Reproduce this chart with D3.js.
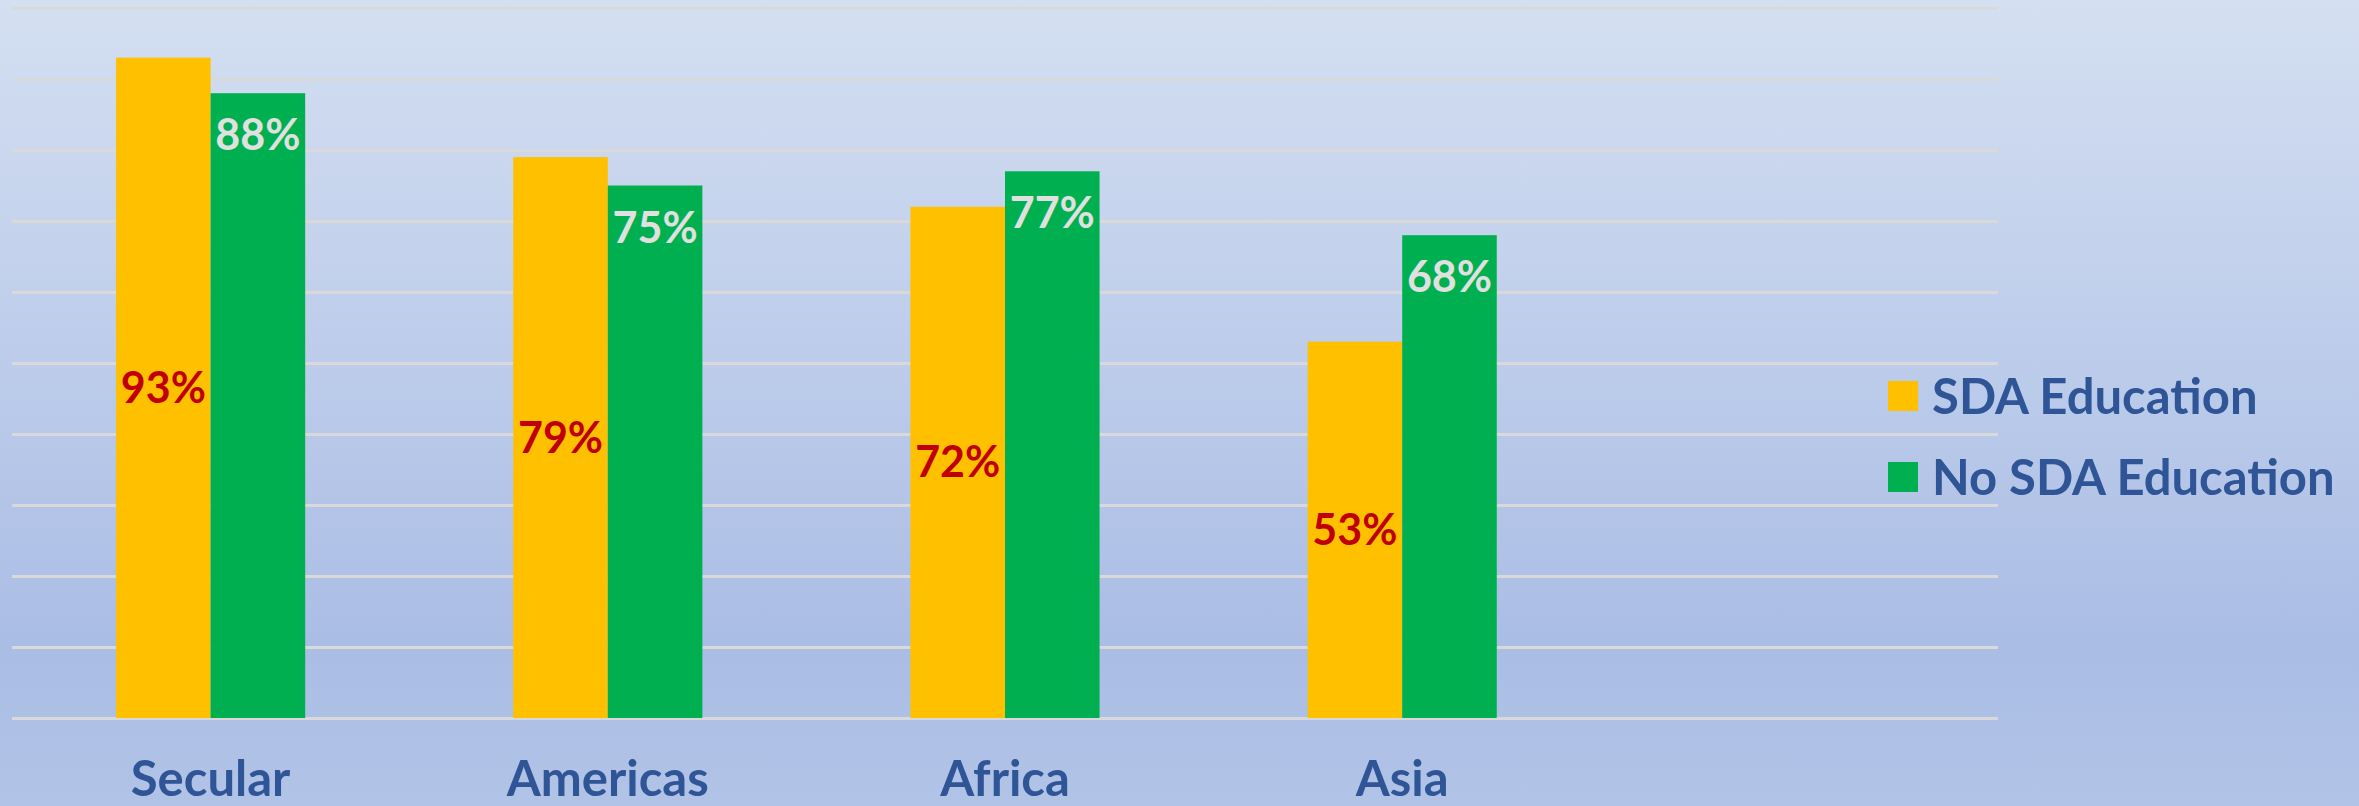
<!DOCTYPE html>
<html>
<head>
<meta charset="utf-8">
<script src="https://cdn.jsdelivr.net/npm/d3@7"></script>
<style>
	html, body { margin: 0; padding: 0; overflow: hidden; }
</style>
</head>
<body>
<div id="chart"></div>
<script>
const categories = ["Secular", "Americas", "Africa", "Asia"];
const seriesNames = ["SDA Education", "No SDA Education"];
const sdaEducation = [0.93, 0.79, 0.72, 0.53];
const noSdaEducation = [0.88, 0.75, 0.77, 0.68];
const gridTicks = [0, 0.1, 0.2, 0.3, 0.4, 0.5, 0.6, 0.7, 0.8, 0.9, 1.0];

const width = 2359, height = 806;
const colors = ["#FFC000", "#00B050"];
const labelColors = ["#C00000", "#E0E0E0"];
const textBlue = "#2F5597";
const font = "Lato, 'Open Sans', sans-serif";

const svg = d3.select("#chart").append("svg")
	.attr("width", width)
	.attr("height", height);

const grad = svg.append("defs").append("linearGradient")
	.attr("id", "bg")
	.attr("x1", 0).attr("y1", 0).attr("x2", 0).attr("y2", 1);
grad.append("stop").attr("offset", "0%").attr("stop-color", "#D4DFF1");
grad.append("stop").attr("offset", "80%").attr("stop-color", "#AABDE5");
grad.append("stop").attr("offset", "100%").attr("stop-color", "#B1C3E6");

svg.append("rect")
	.attr("width", width)
	.attr("height", height)
	.attr("fill", "url(#bg)");

// 5 slots on the axis, the last one is left empty
const x0 = d3.scaleBand()
	.domain(d3.range(categories.length + 1))
	.range([12, 1998]);

const bw = x0.bandwidth();
const barW = bw / 4.2;
const x1 = d3.scaleBand()
	.domain(d3.range(seriesNames.length))
	.range([bw / 2 - barW, bw / 2 + barW]);

const y = d3.scaleLinear().domain([0, 1]).range([718, 8]);

const grid = svg.append("g")
	.attr("transform", "translate(12,0)")
	.call(d3.axisLeft(y).tickValues(gridTicks).tickSize(-(1998 - 12)).tickFormat(""));
grid.select(".domain").remove();
grid.selectAll(".tick line")
	.attr("stroke", "#D9D9D9")
	.attr("stroke-width", 3);

const barData = [];
categories.forEach((c, i) => {
	[sdaEducation, noSdaEducation].forEach((s, j) => {
		barData.push({ cat: i, series: j, value: s[i] });
	});
});

svg.selectAll("rect.bar")
	.data(barData)
	.enter()
	.append("rect")
	.attr("class", "bar")
	.attr("x", d => x0(d.cat) + x1(d.series))
	.attr("y", d => y(d.value))
	.attr("width", x1.bandwidth())
	.attr("height", d => y(0) - y(d.value))
	.attr("fill", d => colors[d.series]);

svg.selectAll("text.value")
	.data(barData)
	.enter()
	.append("text")
	.attr("class", "value")
	.attr("x", d => x0(d.cat) + x1(d.series) + x1.bandwidth() / 2)
	.attr("y", d => d.series === 0 ? (y(d.value) + y(0)) / 2 + 15 : y(d.value) + 57)
	.attr("text-anchor", "middle")
	.attr("fill", d => labelColors[d.series])
	.style("font-family", font)
	.style("font-weight", "bold")
	.style("font-size", "43px")
	.text(d => d3.format(".0%")(d.value));

svg.selectAll("text.cat")
	.data(categories)
	.enter()
	.append("text")
	.attr("class", "cat")
	.attr("x", (d, i) => x0(i) + bw / 2)
	.attr("y", 796)
	.attr("text-anchor", "middle")
	.attr("fill", textBlue)
	.style("font-family", font)
	.style("font-weight", "bold")
	.style("font-size", "49px")
	.text(d => d);

const legend = svg.selectAll("g.legend")
	.data(seriesNames)
	.enter()
	.append("g")
	.attr("class", "legend")
	.attr("transform", (d, i) => `translate(1888,${381 + i * 81})`);

legend.append("rect")
	.attr("width", 30)
	.attr("height", 30)
	.attr("fill", (d, i) => colors[i]);

legend.append("text")
	.attr("x", 44)
	.attr("y", 33)
	.attr("fill", textBlue)
	.style("font-family", font)
	.style("font-weight", "bold")
	.style("font-size", "49px")
	.text(d => d);
</script>
</body>
</html>
